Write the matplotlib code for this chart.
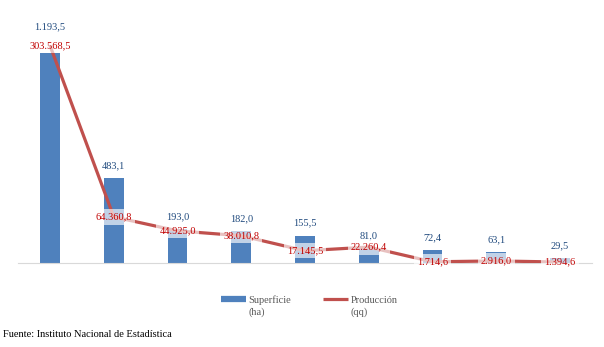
import numpy as np
from matplotlib import pyplot as plt
from matplotlib.lines import Line2D

# data
cultivos = ['Papa', 'Locoto', 'Papaliza', 'Zapallo', 'Haba verde',
            'Oca', 'Maíz', 'Avena', 'Vainita']
superficie_ha = [1193.5, 483.1, 193.0, 182.0, 155.5, 81.0, 72.4, 63.1, 29.5]
produccion_qq = [303568.5, 64360.8, 44925.0, 38010.8, 17145.5,
                 22260.4, 1714.6, 2916.0, 1394.6]
serie_nombres = ['Superficie', 'Producción']
serie_unidades = ['(ha)', '(qq)']

BAR_COLOR = '#4F81BD'
LINE_COLOR = '#C0504D'
BAR_TEXT = '#1F497D'
LINE_TEXT = '#C00000'
GREY_TEXT = '#595959'
FONT = 'Liberation Serif'
FS = 7.5


def fmt_es(v):
  # 1234.5 -> 1.234,5
  s = '{:,.1f}'.format(v)
  return s.replace(',', 'X').replace('.', ',').replace('X', '.')


plt.rcParams['font.family'] = FONT

fig = plt.figure(figsize = (6.04, 3.47), dpi = 100)
ax = fig.add_axes([0.030, 0.242, 0.950, 0.700])
ax2 = ax.twinx()

x = np.arange(len(cultivos))
ax.bar(x, superficie_ha, width = 0.31, color = BAR_COLOR, zorder = 2)
ax.set_xlim(-0.5, len(cultivos) - 0.5)
ax.set_ylim(0, 1381)

ax2.plot(x, produccion_qq, color = LINE_COLOR, linewidth = 2.3, zorder = 3,
         solid_capstyle = 'butt')
ax2.set_ylim(0, 339000)

for a in (ax, ax2):
  for side in ('top', 'left', 'right', 'bottom'):
    a.spines[side].set_visible(False)
  a.set_yticks([])
ax.spines['bottom'].set_visible(True)
ax.spines['bottom'].set_color('#D9D9D9')
ax.spines['bottom'].set_linewidth(0.8)

ax.set_xticks(x)
ax.set_xticklabels(cultivos, fontsize = FS, color = GREY_TEXT)
ax.tick_params(axis = 'x', length = 0, pad = 8)
ax2.set_xticks([])

# bar labels; the first one sits higher to clear the line label
for i, v in enumerate(superficie_ha):
  extra = 10 if i == 0 else 0
  ax.annotate(fmt_es(v), (x[i], v), xytext = (0, 9 + extra),
              textcoords = 'offset points', ha = 'center', va = 'center',
              fontsize = FS, color = BAR_TEXT, zorder = 5)

# line labels centred on the points, on a translucent white box
for i, v in enumerate(produccion_qq):
  ax2.annotate(fmt_es(v), (x[i], v), xytext = (0, 0),
               textcoords = 'offset points', ha = 'center', va = 'center',
               fontsize = FS, color = LINE_TEXT, zorder = 6,
               bbox = dict(boxstyle = 'square,pad=0.3', fc = 'white',
                           ec = 'none', alpha = 0.65))

handles = [Line2D([], [], color = BAR_COLOR, linewidth = 4.5, solid_capstyle = 'butt'),
           Line2D([], [], color = LINE_COLOR, linewidth = 2.3, solid_capstyle = 'butt')]
leg = fig.legend(handles, serie_nombres, ncol = 2,
                 loc = 'center', bbox_to_anchor = (0.512, 0.135), frameon = False,
                 fontsize = FS, labelcolor = GREY_TEXT, handlelength = 2.4,
                 handletextpad = 0.25, columnspacing = 3.1)

# units go on a second line under each legend label
fig.canvas.draw()
inv = fig.transFigure.inverted()
for txt, unidad in zip(leg.get_texts(), serie_unidades):
  bb = txt.get_window_extent().transformed(inv)
  fig.text(bb.x0, bb.y0 - 0.008, unidad, fontsize = FS, color = GREY_TEXT,
           ha = 'left', va = 'top')

fig.text(0.005, 0.035, 'Fuente: Instituto Nacional de Estadística',
         fontsize = FS, color = 'black', ha = 'left', va = 'center')

fig.savefig('out.png', dpi = 100)
